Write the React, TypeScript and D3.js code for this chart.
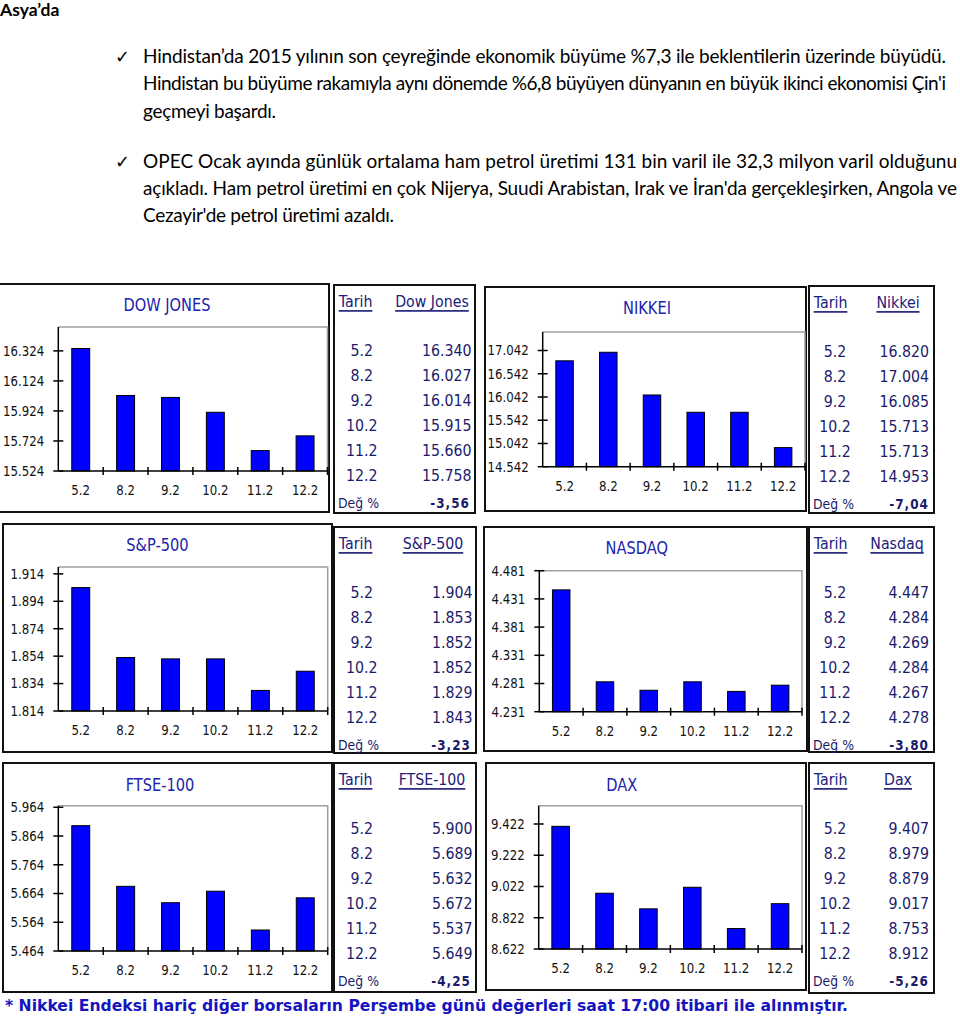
import React from "react";
import * as d3 from "d3";

// tarih etiketleri
const dates = ["5.2", "8.2", "9.2", "10.2", "11.2", "12.2"];

const dowValues = [16.34, 16.027, 16.014, 15.915, 15.66, 15.758];
const dowTicks = [15.524, 15.724, 15.924, 16.124, 16.324];
const nikkeiValues = [16.82, 17.004, 16.085, 15.713, 15.713, 14.953];
const nikkeiTicks = [14.542, 15.042, 15.542, 16.042, 16.542, 17.042];
const spValues = [1.904, 1.853, 1.852, 1.852, 1.829, 1.843];
const spTicks = [1.814, 1.834, 1.854, 1.874, 1.894, 1.914];
const nasdaqValues = [4.447, 4.284, 4.269, 4.284, 4.267, 4.278];
const nasdaqTicks = [4.231, 4.281, 4.331, 4.381, 4.431, 4.481];
const ftseValues = [5.9, 5.689, 5.632, 5.672, 5.537, 5.649];
const ftseTicks = [5.464, 5.564, 5.664, 5.764, 5.864, 5.964];
const daxValues = [9.407, 8.979, 8.879, 9.017, 8.753, 8.912];
const daxTicks = [8.622, 8.822, 9.022, 9.222, 9.422];

const titles = ["DOW JONES", "NIKKEI", "S&P-500", "NASDAQ", "FTSE-100", "DAX"];
const columnNames = ["Dow Jones", "Nikkei", "S&P-500", "Nasdaq", "FTSE-100", "Dax"];
const changes = ["-3,56", "-7,04", "-3,23", "-3,80", "-4,25", "-5,26"];

const heading = "Asya’da";
const paragraph1 = [
  "Hindistan’da 2015 yılının son çeyreğinde ekonomik büyüme %7,3 ile beklentilerin üzerinde büyüdü.",
  "Hindistan bu büyüme rakamıyla aynı dönemde %6,8 büyüyen dünyanın en büyük ikinci ekonomisi Çin'i",
  "geçmeyi başardı.",
];
const paragraph2 = [
  "OPEC Ocak ayında günlük ortalama ham petrol üretimi 131 bin varil ile 32,3 milyon varil olduğunu",
  "açıkladı. Ham petrol üretimi en çok Nijerya, Suudi Arabistan, Irak ve İran'da gerçekleşirken, Angola ve",
  "Cezayir'de petrol üretimi azaldı.",
];
const footnote =
  "* Nikkei Endeksi hariç diğer borsaların Perşembe günü değerleri saat 17:00 itibari ile alınmıştır.";

// panel yerleşimi (kutu, çizim alanı, başlık, tablo)
const layouts = [
  { values: dowValues, ticks: dowTicks, yMax: 16.483, box: [-1, 284, 329, 512], plot: [58.3, 327, 327.5, 471], titleAt: [167, 305], table: [334, 285, 475, 513], nameX: 432 },
  { values: nikkeiValues, ticks: nikkeiTicks, yMax: 17.44, box: [485, 287, 806, 511], plot: [542.7, 332, 805, 466.7], titleAt: [647, 308], table: [809, 286, 934, 513], nameX: 898 },
  { values: spValues, ticks: spTicks, yMax: 1.919, box: [3, 524, 332, 752], plot: [58.3, 567, 327.7, 711], titleAt: [157.5, 545], table: [334, 527, 476, 753], nameX: 433 },
  { values: nasdaqValues, ticks: nasdaqTicks, yMax: 4.481, box: [484, 527, 807, 751], plot: [539.3, 570.7, 802, 711.7], titleAt: [636.7, 548], table: [809, 527, 934, 752], nameX: 897 },
  { values: ftseValues, ticks: ftseTicks, yMax: 5.9695, box: [3, 763, 332, 992], plot: [58.3, 805.7, 327.7, 951], titleAt: [160, 785], table: [334, 763, 476, 992], nameX: 432 },
  { values: daxValues, ticks: daxTicks, yMax: 9.539, box: [486, 763, 806, 990], plot: [538.7, 805.7, 802, 949], titleAt: [621.7, 785], table: [809, 763, 934, 993], nameX: 898 },
];

const fmt = d3.format(".3f");

// Tahoma benzeri: DejaVu Sans yatayda sıkıştırılmış
const T = ({ x, y, anchor = "start", size, fill = "#111", weight = "normal", deco = "none", ls = 0, children }) => (
  <text
    transform={`translate(${x},${y}) scale(0.86,1)`}
    textAnchor={anchor}
    dominantBaseline="central"
    fontFamily="'DejaVu Sans', sans-serif"
    fontSize={size}
    fontWeight={weight}
    fill={fill}
    textDecoration={deco}
    letterSpacing={ls}
  >
    {children}
  </text>
);

const Panel = ({ idx }) => {
  const L = layouts[idx];
  const [pl, pt, pr, pb] = L.plot;
  const x = d3.scaleBand().domain(dates).range([pl, pr]).paddingInner(0.6).paddingOuter(0.3);
  const y = d3.scaleLinear().domain([L.ticks[0], L.yMax]).range([pb, pt]);
  const step = x.step();
  const bounds = dates.map((d) => x(d) + x.bandwidth() / 2 + step / 2);
  const [tx0, ty0, tx1, ty1] = L.table;
  const wide = tx1 - tx0 > 135;
  const dateX = tx0 + (wide ? 27.7 : 26);
  const valX = tx1 - (wide ? 3.5 : 5);
  const navy = "#1b1b6b";

  return (
    <g>
      <rect x={L.box[0]} y={L.box[1]} width={L.box[2] - L.box[0]} height={L.box[3] - L.box[1]} fill="#fff" stroke="#111" strokeWidth={2} />
      <T x={L.titleAt[0]} y={L.titleAt[1]} anchor="middle" size={17} fill="#2222aa">
        {titles[idx]}
      </T>
      <path d={`M${pl},${pt}H${pr}V${pb}`} fill="none" stroke="#a0a0a0" strokeWidth={1.5} />
      {L.values.map((v, i) => (
        <rect key={i} x={x(dates[i])} y={y(v)} width={x.bandwidth()} height={pb - y(v)} fill="#0000ff" stroke="#000" strokeWidth={1} />
      ))}
      <line x1={pl} x2={pl} y1={pt} y2={pb} stroke="#000" strokeWidth={1.5} />
      <line x1={pl} x2={pr} y1={pb} y2={pb} stroke="#000" strokeWidth={1.5} />
      {L.ticks.map((t) => (
        <g key={t}>
          <line x1={pl - 5} x2={pl + 5} y1={y(t)} y2={y(t)} stroke="#000" strokeWidth={1.5} />
          <T x={pl - 14} y={y(t)} anchor="end" size={13.7}>
            {fmt(t)}
          </T>
        </g>
      ))}
      {bounds.map((b, i) => (
        <line key={i} x1={b} x2={b} y1={pb - 4} y2={pb + 4} stroke="#000" strokeWidth={1.5} />
      ))}
      {dates.map((d) => (
        <T key={d} x={x(d) + x.bandwidth() / 2} y={pb + 19} anchor="middle" size={13.7}>
          {d}
        </T>
      ))}

      <rect x={tx0} y={ty0} width={tx1 - tx0} height={ty1 - ty0} fill="#fff" stroke="#111" strokeWidth={2} />
      <T x={tx0 + 21.5} y={ty0 + 16.5} anchor="middle" size={16.5} fill="#20207a" deco="underline">
        Tarih
      </T>
      <T x={L.nameX} y={ty0 + 16.5} anchor="middle" size={16.5} fill="#20207a" deco="underline">
        {columnNames[idx]}
      </T>
      {L.values.map((v, i) => (
        <g key={i}>
          <T x={dateX} y={ty0 + 66 + i * 25} anchor="middle" size={16.5} fill={navy}>
            {dates[i]}
          </T>
          <T x={valX} y={ty0 + 66 + i * 25} anchor="end" size={16.5} fill={navy}>
            {fmt(v)}
          </T>
        </g>
      ))}
      <T x={tx0 + 4} y={ty0 + 218} size={14.5} fill={navy}>
        Değ %
      </T>
      <T x={tx1 - 5} y={ty0 + 218} anchor="end" size={14} weight="bold" fill={navy} ls={1.2}>
        {changes[idx]}
      </T>
    </g>
  );
};

const bodyFont = "Lato, 'Noto Sans', sans-serif";
const p1Base = [63, 90, 118];
const p2Base = [168, 195, 222];
const p1Width = [803, 803, 133];
const p2Width = [814, 814, 251];

export default function App() {
  return (
    <svg width={960} height={1021} style={{ position: "absolute", left: 0, top: 0, background: "#fff" }}>
      <rect width={960} height={1021} fill="#fff" />
      <text x={0} y={16} fontFamily={bodyFont} fontSize={17.5} fontWeight="bold" fill="#000">
        {heading}
      </text>
      <text x={115} y={p1Base[0]} fontFamily="'DejaVu Sans'" fontSize={18} fill="#000">✓</text>
      <text x={115} y={p2Base[0]} fontFamily="'DejaVu Sans'" fontSize={18} fill="#000">✓</text>
      {paragraph1.map((t, i) => (
        <text key={i} x={143} y={p1Base[i]} fontFamily={bodyFont} fontSize={19} fill="#000" textLength={p1Width[i]} lengthAdjust="spacing">
          {t}
        </text>
      ))}
      {paragraph2.map((t, i) => (
        <text key={i} x={143} y={p2Base[i]} fontFamily={bodyFont} fontSize={19} fill="#000" textLength={p2Width[i]} lengthAdjust="spacing">
          {t}
        </text>
      ))}
      {layouts.map((_, i) => (
        <Panel key={i} idx={i} />
      ))}
      <text x={5} y={1011} fontFamily="'DejaVu Sans', sans-serif" fontSize={15.5} fontWeight="bold" fill="#1414c0" textLength={843} lengthAdjust="spacingAndGlyphs">
        {footnote}
      </text>
    </svg>
  );
}
